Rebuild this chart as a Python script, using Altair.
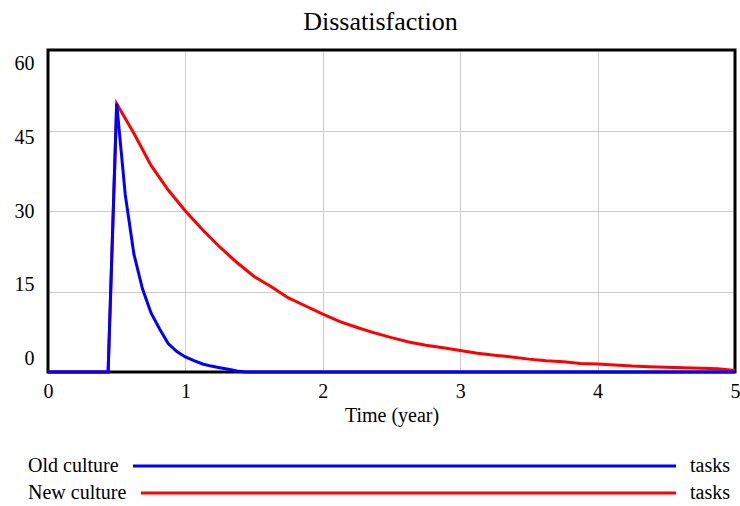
import altair as alt
import pandas as pd

# Simulation output (time in years, dissatisfaction in tasks)
old_time = [0.0, 0.4375, 0.5, 0.5625, 0.625, 0.6875, 0.75, 0.8125, 0.875, 0.9375,
            1.0, 1.0625, 1.125, 1.1875, 1.25, 1.3125, 1.375, 1.4375, 5.0]
old_value = [0, 0, 50, 33, 22, 15.5, 11, 8, 5.3, 3.8,
             2.8, 2.1, 1.5, 1.1, 0.8, 0.5, 0.2, 0, 0]

new_time = [0.0, 0.4375, 0.5, 0.625, 0.75, 0.875, 1.0, 1.125, 1.25, 1.375, 1.5,
            1.625, 1.75, 1.875, 2.0, 2.125, 2.25, 2.375, 2.5, 2.625, 2.75, 2.875,
            3.0, 3.125, 3.25, 3.375, 3.5, 3.625, 3.75, 3.875, 4.0, 4.125, 4.25,
            4.375, 4.5, 4.625, 4.75, 4.875, 5.0]
new_value = [0, 0, 50, 44.5, 38.5, 33.9, 30.0, 26.5, 23.3, 20.4, 17.8,
             15.9, 13.8, 12.3, 10.8, 9.4, 8.3, 7.3, 6.4, 5.6, 5.0, 4.5,
             4.0, 3.5, 3.1, 2.8, 2.4, 2.1, 1.9, 1.6, 1.5, 1.3, 1.1,
             1.0, 0.9, 0.8, 0.7, 0.6, 0.3]

series_names = ["Old culture", "New culture"]
series_colors = ["#0000ff", "#ff0000"]
y_ticks = [0, 15, 30, 45, 60]
x_ticks = [0, 1, 2, 3, 4, 5]

FONT = "Liberation Serif"
W, H = 687, 322

old_df = pd.DataFrame({"time": old_time, "value": old_value, "series": series_names[0]})
new_df = pd.DataFrame({"time": new_time, "value": new_value, "series": series_names[1]})

x_enc = alt.X(
    "time:Q",
    scale=alt.Scale(domain=[0, 5], nice=False, zero=False),
    axis=alt.Axis(
        values=x_ticks, title="Time (year)", ticks=False, domain=False,
        labelFont=FONT, labelFontSize=20, labelColor="black", labelPadding=9,
        labelFlush=False,
        titleFont=FONT, titleFontSize=20, titleFontWeight="normal",
        titleColor="black", titlePadding=4,
        gridColor="#cccccc", gridWidth=1,
    ),
)
y_enc = alt.Y(
    "value:Q",
    scale=alt.Scale(domain=[0, 60], nice=False),
    axis=alt.Axis(
        values=y_ticks, title=None, ticks=False, domain=False,
        labelFont=FONT, labelFontSize=20, labelColor="black", labelPadding=14,
        labelOffset={
            "condition": [
                {"test": "datum.value == 60", "value": 13},
                {"test": "datum.value == 45", "value": 7},
                {"test": "datum.value == 15", "value": -7},
                {"test": "datum.value == 0", "value": -14},
            ],
            "value": 0,
        },
        gridColor="#cccccc", gridWidth=1,
    ),
)

color_scale = alt.Scale(domain=series_names, range=series_colors)

new_line = alt.Chart(new_df).mark_line(strokeWidth=3).encode(
    x=x_enc, y=y_enc,
    color=alt.Color("series:N", scale=color_scale, legend=None),
)
old_line = alt.Chart(old_df).mark_line(strokeWidth=3).encode(
    x=x_enc, y=y_enc,
    color=alt.Color("series:N", scale=color_scale, legend=None),
)

# Black frame around the plot area
frame = alt.Chart(pd.DataFrame({"f": [0]})).mark_rect(
    fill=None, stroke="black", strokeWidth=3
).encode(x=alt.value(0), x2=alt.value(W), y=alt.value(0), y2=alt.value(H))

# Key below the plot: name, coloured line, unit
legend_layers = []
key_rows = [(416, 85), (443, 93)]
for (ky, line_start), name, col in zip(key_rows, series_names, series_colors):
    legend_layers.append(
        alt.Chart(pd.DataFrame({"t": [name]})).mark_text(
            align="left", baseline="middle", font=FONT, fontSize=20, color="black"
        ).encode(text="t:N", x=alt.value(-20), y=alt.value(ky))
    )
    legend_layers.append(
        alt.Chart(pd.DataFrame({"t": [name]})).mark_rule(
            color=col, strokeWidth=3
        ).encode(x=alt.value(line_start), x2=alt.value(628), y=alt.value(ky))
    )
    legend_layers.append(
        alt.Chart(pd.DataFrame({"t": ["tasks"]})).mark_text(
            align="left", baseline="middle", font=FONT, fontSize=20, color="black"
        ).encode(text="t:N", x=alt.value(642), y=alt.value(ky))
    )

chart = alt.layer(frame, new_line, old_line, *legend_layers).properties(
    width=W,
    height=H,
    background="white",
    title=alt.TitleParams(
        "Dissatisfaction", font=FONT, fontSize=26, fontWeight="normal",
        color="black", anchor="middle", offset=14, dx=-11,
    ),
    autosize=alt.AutoSizeParams(type="none"),
    padding={"left": 48, "top": 50, "right": 5, "bottom": 134},
).configure_view(
    stroke=None
)

chart.save("out.html", embed_options={"renderer": "svg", "actions": False})
